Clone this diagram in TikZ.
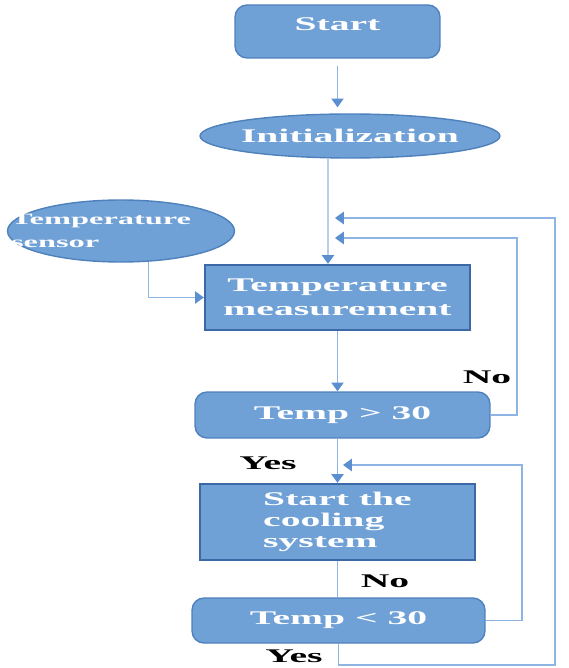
\documentclass[tikz,border=0pt]{standalone}
\usepackage{fontspec}
\setmainfont{Liberation Serif}[FakeStretch=2.05]
\usetikzlibrary{arrows.meta, positioning, shapes.geometric}
\definecolor{boxfill}{RGB}{111,160,214}
\definecolor{boxline}{RGB}{79,129,189}
\definecolor{darkline}{RGB}{60,104,166}
\definecolor{flowline}{RGB}{141,180,226}
\definecolor{tipfill}{RGB}{91,143,208}

\begin{document}
\begin{tikzpicture}[x=0.02cm, y=-0.02cm,
    flow/.style={draw=flowline, line width=0.8pt},
    arr/.style={flow, -{Triangle[width=7pt, length=5pt, color=tipfill, fill=tipfill]}},
    roundbox/.style={draw=boxline, fill=boxfill, line width=0.8pt, rounded corners=0.24cm,
      text=white, font=\fontsize{11}{13}\selectfont\bfseries, inner sep=0pt},
    squarebox/.style={draw=darkline, fill=boxfill, line width=1.3pt,
      text=white, font=\fontsize{11}{13.5}\selectfont\bfseries, inner sep=0pt},
    oval/.style={ellipse, draw=boxline, fill=boxfill, line width=0.8pt, text=white,
      inner xsep=-40pt, inner ysep=-10pt},
    answer/.style={font=\fontsize{11}{13}\selectfont\bfseries, inner sep=0pt}]
  \useasboundingbox (0,0) rectangle (568,668);

  \node[roundbox, minimum width=4.1cm, minimum height=1.06cm, text depth=0.3cm] (start) at (337.5,31.5) {Start};
  \node[oval, minimum width=6cm, minimum height=0.88cm,
    font=\fontsize{11}{13}\selectfont\bfseries] (init) at (350,136) {Initialization};
  \node[oval, minimum width=4.54cm, minimum height=1.24cm, text width=4.4cm, align=left,
    font=\fontsize{9}{13.5}\selectfont\bfseries] (sensor) at (121,231) {Temperature\\sensor};
  \node[squarebox, minimum width=5.3cm, minimum height=1.3cm, align=center] (meas) at (337.5,297.5)
    {Temperature\\measurement};
  \node[roundbox, minimum width=5.9cm, minimum height=0.92cm] (hot) at (342.5,415) {Temp > 30};
  \node[squarebox, minimum width=5.5cm, minimum height=1.52cm, align=left,
    font=\fontsize{11}{12}\selectfont\bfseries] (cool) at (337.5,522) {Start the\\cooling\\system};
  \node[roundbox, minimum width=5.86cm, minimum height=0.9cm] (cold) at (338.5,620.5) {Temp < 30};

  \node[answer] (no1) at (487,377) {No};
  \node[answer] (yes1) at (268,463) {Yes};
  \node[answer] (no2) at (385,581) {No};
  \node[answer] (yes2) at (294,656) {Yes};

  \coordinate (inA) at (335,218);
  \coordinate (inB) at (335,238);
  \coordinate (inC) at (343,465);
  \coordinate (loopA) at (555,665);
  \coordinate (loopB) at (517,238);
  \coordinate (loopC) at (522,465);

  \draw[arr, shorten <=0.14cm, shorten >=0.12cm] (start.south) -- (init.north -| start.south);
  \draw[arr] ([xshift=-0.44cm]init.south) -- ([xshift=-0.19cm]meas.north);
  \draw[arr] (sensor.-48) |- (meas.west);
  \draw[arr] (meas.south) -- (meas.south |- hot.north);
  \draw[arr] (hot.south -| cool.north) -- (cool.north);
  \draw[flow] (cool.south) -- (cool.south |- cold.north);
  \draw[arr] (hot.east) -| (loopB) -- (inB);
  \draw[arr] (cold.east) -| (loopC) -- (inC);
  \draw[arr] (cold.south) |- (loopA) -- (loopA |- inA) -- (inA);
\end{tikzpicture}
\end{document}
